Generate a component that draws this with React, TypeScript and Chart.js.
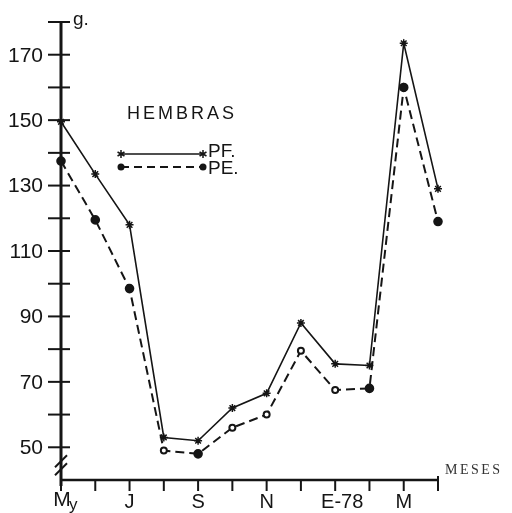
import React, { useEffect, useRef } from "react";
import { Chart, registerables } from "chart.js";

Chart.register(...registerables);

// ---- data ----
const months = ["My", "Jn", "J", "Ag", "S", "O", "N", "D", "E-78", "F", "M", "Ab"];
const xTickLabels = ["My", "", "J", "", "S", "", "N", "", "E-78", "", "M", ""];
const pfValues = [149.5, 133.5, 118, 53, 52, 62, 66.5, 88, 75.5, 75, 173.5, 129];
const peValues = [137.5, 119.5, 98.5, 49, 48, 56, 60, 79.5, 67.5, 68, 160, 119];
const peHollow = [false, false, false, true, false, true, true, true, true, false, false, false];
const yLabelValues = [50, 70, 90, 110, 130, 150, 170];
const yTickValues = [50, 60, 70, 80, 90, 100, 110, 120, 130, 140, 150, 160, 170, 180];
const yMin = 40;
const yMax = 180;
const legendTitle = "HEMBRAS";
const seriesNames = ["PF.", "PE."];
const yUnit = "g.";
const xTitle = "MESES";

const INK = "#151515";
const SANS = '"Liberation Sans", Arial, sans-serif';

function drawStar(ctx: CanvasRenderingContext2D, x: number, y: number, r: number) {
  ctx.beginPath();
  for (let k = 0; k < 3; k++) {
    const a = Math.PI / 2 + (k * Math.PI) / 3;
    ctx.moveTo(x + r * Math.cos(a), y + r * Math.sin(a));
    ctx.lineTo(x - r * Math.cos(a), y - r * Math.sin(a));
  }
  ctx.stroke();
}

const decorPlugin = {
  id: "decor",
  afterDraw(chart: any) {
    const ctx: CanvasRenderingContext2D = chart.ctx;
    const xs = chart.scales.x;
    const ys = chart.scales.y;
    const { left, right, top, bottom } = chart.chartArea;
    ctx.save();
    ctx.strokeStyle = INK;
    ctx.fillStyle = INK;
    ctx.lineCap = "butt";

    // y axis
    ctx.lineWidth = 3;
    ctx.beginPath();
    ctx.moveTo(left, top);
    ctx.lineTo(left, bottom + 6);
    ctx.stroke();
    // x axis
    ctx.lineWidth = 2.5;
    ctx.beginPath();
    ctx.moveTo(left, bottom);
    ctx.lineTo(right, bottom);
    ctx.stroke();

    // y ticks crossing axis
    ctx.lineWidth = 2;
    for (const v of yTickValues) {
      const y = ys.getPixelForValue(v);
      ctx.beginPath();
      ctx.moveTo(left - 13, y);
      ctx.lineTo(left + 9, y);
      ctx.stroke();
    }
    // y labels
    ctx.font = `21px ${SANS}`;
    ctx.textAlign = "right";
    ctx.textBaseline = "middle";
    for (const v of yLabelValues) {
      ctx.fillText(String(v), left - 18, ys.getPixelForValue(v) + 1);
    }
    // unit
    ctx.font = `19px ${SANS}`;
    ctx.textAlign = "left";
    ctx.textBaseline = "alphabetic";
    ctx.fillText(yUnit, left + 12, ys.getPixelForValue(yMax) + 3);

    // axis break
    ctx.lineWidth = 2;
    const yb = ys.getPixelForValue(44.5);
    for (const d of [-4, 4]) {
      ctx.beginPath();
      ctx.moveTo(left - 6, yb + d + 6);
      ctx.lineTo(left + 6, yb + d - 6);
      ctx.stroke();
    }

    // x ticks
    ctx.lineWidth = 2;
    for (let i = 0; i < months.length; i++) {
      const x = xs.getPixelForValue(i);
      ctx.beginPath();
      ctx.moveTo(x, i === months.length - 1 ? bottom - 4 : bottom);
      ctx.lineTo(x, bottom + 11);
      ctx.stroke();
    }
    // x labels
    ctx.font = `20px ${SANS}`;
    ctx.textAlign = "center";
    ctx.textBaseline = "middle";
    for (let i = 0; i < xTickLabels.length; i++) {
      const lab = xTickLabels[i];
      if (!lab) continue;
      const x = xs.getPixelForValue(i);
      if (lab === "My") {
        ctx.font = `21px ${SANS}`;
        ctx.fillText("M", x + 1, bottom + 20);
        ctx.font = `17px ${SANS}`;
        ctx.textAlign = "left";
        ctx.textBaseline = "alphabetic";
        ctx.fillText("y", x + 8, bottom + 30);
        ctx.textAlign = "center";
        ctx.textBaseline = "middle";
        ctx.font = `20px ${SANS}`;
      } else if (lab.startsWith("E")) {
        ctx.fillText(lab, x + 7, bottom + 22);
      } else {
        ctx.fillText(lab, x, bottom + 22);
      }
    }
    // x title
    ctx.font = `14px "Liberation Serif", serif`;
    (ctx as any).letterSpacing = "2.5px";
    ctx.fillStyle = "#333";
    ctx.textAlign = "left";
    ctx.textBaseline = "middle";
    ctx.fillText(xTitle, right + 7, bottom - 10);
    ctx.fillStyle = INK;

    // legend
    (ctx as any).letterSpacing = "3px";
    ctx.font = `18px ${SANS}`;
    ctx.textBaseline = "middle";
    ctx.fillText(legendTitle, left + 66, 114);
    (ctx as any).letterSpacing = "0px";

    const lx1 = left + 60;
    const lx2 = left + 142;
    // PF sample
    ctx.lineWidth = 1.5;
    ctx.setLineDash([]);
    ctx.beginPath();
    ctx.moveTo(lx1, 154);
    ctx.lineTo(lx2, 154);
    ctx.stroke();
    ctx.lineWidth = 1.5;
    drawStar(ctx, lx1, 154, 4);
    drawStar(ctx, lx2, 154, 4);
    // PE sample
    ctx.lineWidth = 2;
    ctx.setLineDash([8, 5]);
    ctx.beginPath();
    ctx.moveTo(lx1, 167);
    ctx.lineTo(lx2, 167);
    ctx.stroke();
    ctx.setLineDash([]);
    for (const x of [lx1, lx2]) {
      ctx.beginPath();
      ctx.arc(x, 167, 3.5, 0, Math.PI * 2);
      ctx.fill();
    }
    ctx.font = `19px ${SANS}`;
    ctx.fillText(seriesNames[0], lx2 + 5, 152);
    ctx.fillText(seriesNames[1], lx2 + 5, 169);

    ctx.restore();
  },
};

export default function App() {
  const ref = useRef<HTMLCanvasElement | null>(null);
  useEffect(() => {
    if (!ref.current) return;
    const chart = new Chart(ref.current, {
      type: "line",
      data: {
        labels: months,
        datasets: [
          {
            label: seriesNames[0],
            data: pfValues,
            borderColor: INK,
            borderWidth: 1.6,
            pointStyle: "star",
            pointRadius: 4,
            pointBorderWidth: 1.5,
            pointBorderColor: INK,
            pointBackgroundColor: INK,
            tension: 0,
          },
          {
            label: seriesNames[1],
            data: peValues,
            borderColor: INK,
            borderWidth: 2,
            borderDash: [9, 5],
            pointStyle: "circle",
            pointRadius: peValues.map((_, i) => (peHollow[i] ? 3 : 3.8)),
            pointBorderWidth: 2,
            pointBorderColor: INK,
            pointBackgroundColor: peValues.map((_, i) => (peHollow[i] ? "#fff" : INK)),
            tension: 0,
          },
        ],
      },
      options: {
        responsive: false,
        animation: false,
        devicePixelRatio: 1,
        layout: { padding: { left: 61, right: 74, top: 22, bottom: 33 } },
        plugins: { legend: { display: false }, tooltip: { enabled: false }, title: { display: false } },
        scales: {
          x: { type: "category", offset: false, display: false },
          y: { type: "linear", min: yMin, max: yMax, display: false },
        },
      },
      plugins: [decorPlugin],
    });
    return () => chart.destroy();
  }, []);
  return (
    <div style={{ position: "fixed", left: 0, top: 0, width: 512, height: 513, background: "#fff" }}>
      <canvas ref={ref} width={512} height={513} style={{ display: "block" }} />
    </div>
  );
}
